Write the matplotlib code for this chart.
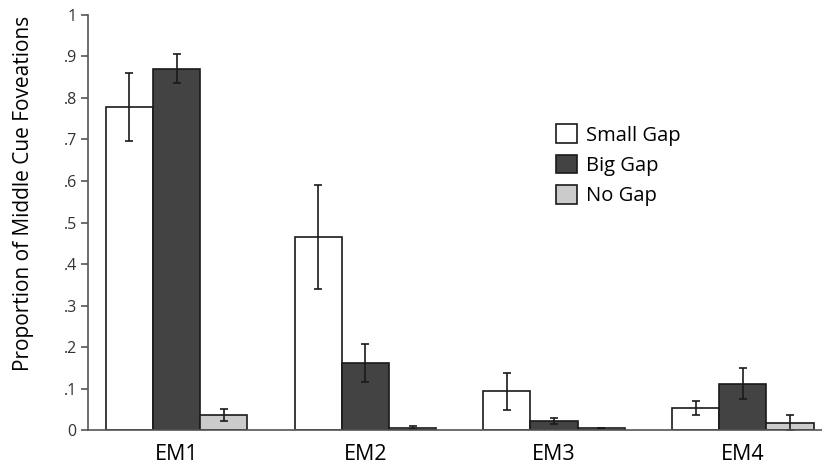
import matplotlib.pyplot as plt
import numpy as np

plt.rcParams['font.family'] = ['Open Sans', 'DejaVu Sans']

groups = ['EM1', 'EM2', 'EM3', 'EM4']
conditions = ['Small Gap', 'Big Gap', 'No Gap']
means = {
    'Small Gap': [0.778, 0.466, 0.093, 0.053],
    'Big Gap':   [0.871, 0.162, 0.022, 0.112],
    'No Gap':    [0.036, 0.006, 0.005, 0.018],
}
errors = {
    'Small Gap': [0.082, 0.125, 0.044, 0.017],
    'Big Gap':   [0.036, 0.045, 0.007, 0.037],
    'No Gap':    [0.014, 0.003, 0.001, 0.018],
}
colors = ['white', '#434343', '#cbcbcb']
yticks = [0, 0.1, 0.2, 0.3, 0.4, 0.5, 0.6, 0.7, 0.8, 0.9, 1.0]
ytick_labels = ['0', '.1', '.2', '.3', '.4', '.5', '.6', '.7', '.8', '.9', '1']

fig = plt.figure(figsize=(8.22, 4.67), dpi=100)
ax = fig.add_axes([0.107, 0.079, 0.893, 0.889])

x = np.arange(len(groups))
w = 0.25
for i, cond in enumerate(conditions):
    ax.bar(x + (i - 1) * w, means[cond], w, color=colors[i], edgecolor='#1a1a1a',
           linewidth=1.2, label=cond,
           yerr=errors[cond], capsize=3,
           error_kw=dict(ecolor='#1a1a1a', elinewidth=1.2, capthick=1.2))

ax.set_xlim(-0.47, 3.42)
ax.set_ylim(0, 1)
ax.set_yticks(yticks)
ax.set_yticklabels(ytick_labels, fontsize=11.5, color='#333333')
ax.set_xticks(x)
ax.set_xticklabels(groups, fontsize=15.5)
ax.tick_params(axis='x', length=0, pad=10)
ax.tick_params(axis='y', length=5, width=1.2, color='#555555', pad=3)
ax.set_ylabel('Proportion of Middle Cue Foveations', fontsize=15)
ax.yaxis.set_label_coords(-0.074, 0.571)

for s in ['top', 'right']:
    ax.spines[s].set_visible(False)
for s in ['left', 'bottom']:
    ax.spines[s].set_color('#555555')
    ax.spines[s].set_linewidth(1.2)

ax.legend(loc='upper left', bbox_to_anchor=(0.613, 0.78), frameon=False,
          fontsize=14.5, handlelength=1.05, handleheight=1.05, handletextpad=0.45,
          labelspacing=0.45)

fig.savefig('out.png', dpi=100)
